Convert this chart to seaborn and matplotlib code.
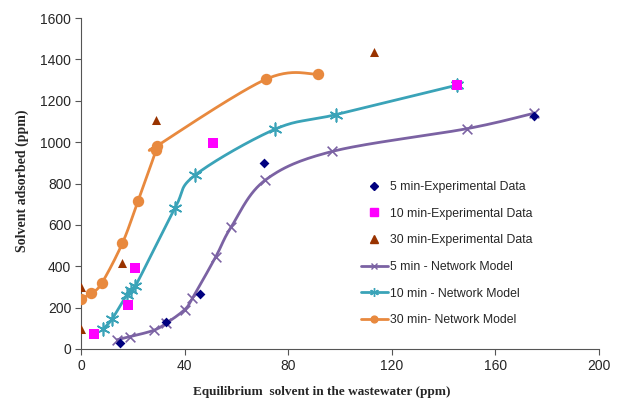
import numpy as np
import pandas as pd
import matplotlib
matplotlib.use('agg')
import matplotlib.pyplot as plt
from matplotlib.lines import Line2D
import seaborn as sns

# experimental data
exp5_x = [15, 33, 46, 70.5, 175]
exp5_y = [30, 130, 266, 898, 1128]
exp10_x = [5, 18, 21, 51, 145]
exp10_y = [72, 212, 392, 995, 1278]
exp30_x = [0, 0, 16, 29, 113]
exp30_y = [97, 300, 415, 1105, 1438]

# network model
mod5_x = [14, 19, 28, 33, 40, 43, 52, 58, 71, 97, 149, 175]
mod5_y = [45, 60, 90, 125, 190, 245, 445, 590, 815, 955, 1065, 1140]
mod10_x = [8.4, 12, 17.6, 19.2, 21, 36.3, 44, 75, 98.4, 145]
mod10_y = [95, 145, 261, 285, 304, 681, 840, 1063, 1133, 1275]
mod30_x = [0, 4, 8, 16, 22, 29, 29.3, 71.4, 91.5]
mod30_y = [242, 270, 318, 512, 715, 961, 981, 1304, 1328]


def smooth(xs, ys, n=30):
    # Excel-style smoothed line (Catmull-Rom bezier)
    p = np.column_stack([xs, ys]).astype(float)
    out = []
    for i in range(len(p) - 1):
        p0 = p[i - 1] if i > 0 else p[i]
        p1, p2 = p[i], p[i + 1]
        p3 = p[i + 2] if i + 2 < len(p) else p[i + 1]
        c1 = p1 + (p2 - p0) / 6
        c2 = p2 - (p3 - p1) / 6
        t = np.linspace(0, 1, n)[:, None]
        seg = (1 - t) ** 3 * p1 + 3 * (1 - t) ** 2 * t * c1 + 3 * (1 - t) * t ** 2 * c2 + t ** 3 * p2
        out.append(seg)
    return np.vstack(out)


sns.set_style('white')
plt.rcParams['font.family'] = ['Liberation Sans', 'DejaVu Sans']

fig = plt.figure(figsize=(6.18, 4.03), dpi=100)
ax = fig.add_axes([81 / 618, 54 / 403, 518 / 618, 331 / 403])

c5, c10, c30 = '#7B62A3', '#3AA3B8', '#E8893E'

models = [
    (mod5_x, mod5_y, c5, 'x', 7, '5 min - Network Model'),
    (mod10_x, mod10_y, c10, (6, 2, 0), 9, '10 min - Network Model'),
    (mod30_x, mod30_y, c30, 'o', 7, '30 min- Network Model'),
]
for mx, my, col, mk, ms, lab in models:
    curve = smooth(mx, my)
    df = pd.DataFrame({'x': curve[:, 0], 'y': curve[:, 1]})
    sns.lineplot(data=df, x='x', y='y', sort=False, color=col, lw=2, ax=ax, zorder=2)
    pts = pd.DataFrame({'x': mx, 'y': my})
    sns.scatterplot(data=pts, x='x', y='y', marker=mk, s=ms ** 2, color=col,
                    edgecolor=col, linewidth=1.2, ax=ax, zorder=3)

exps = [
    (exp5_x, exp5_y, '#00007F', 'D', 5, '5 min-Experimental Data'),
    (exp10_x, exp10_y, '#FF00FF', 's', 6.5, '10 min-Experimental Data'),
    (exp30_x, exp30_y, '#993300', '^', 6.5, '30 min-Experimental Data'),
]
for ex, ey, col, mk, ms, lab in exps:
    pts = pd.DataFrame({'x': ex, 'y': ey})
    sns.scatterplot(data=pts, x='x', y='y', marker=mk, s=ms ** 2, color=col,
                    edgecolor=col, linewidth=0, ax=ax, zorder=4)

ax.set_xlim(0, 200)
ax.set_ylim(0, 1600)
ax.set_xticks(range(0, 201, 40))
ax.set_yticks(range(0, 1601, 200))
ax.tick_params(axis='both', direction='out', length=4, width=0.8, color='#555555',
               labelsize=10, pad=3, bottom=True, left=True)
for s in ['top', 'right']:
    ax.spines[s].set_visible(False)
for s in ['left', 'bottom']:
    ax.spines[s].set_color('#555555')
    ax.spines[s].set_linewidth(0.8)

ax.set_xlabel('Equilibrium  solvent in the wastewater (ppm)', family='Liberation Serif',
              fontweight='bold', fontsize=9.5)
ax.xaxis.set_label_coords((322 - 81) / 518, -37 / 331)
ax.set_ylabel('Solvent adsorbed (ppm)', family='Liberation Serif',
              fontweight='bold', fontsize=10)
ax.yaxis.set_label_coords(-52 / 518, (349 - 181) / 331)

handles = []
for ex, ey, col, mk, ms, lab in exps:
    handles.append(Line2D([], [], ls='none', marker=mk, color=col, ms=ms * 0.8, label=lab))
for mx, my, col, mk, ms, lab in models:
    handles.append(Line2D([], [], color=col, lw=2, marker=mk, ms=ms * 0.7, mew=1, label=lab))
ax.legend(handles=handles, loc='upper left', bbox_to_anchor=(350 / 618, 1 - 170 / 403),
          bbox_transform=fig.transFigure, frameon=False, fontsize=8.8,
          labelspacing=1.2, handlelength=2.2, handletextpad=0.2)

fig.savefig('out.png', dpi=100)
